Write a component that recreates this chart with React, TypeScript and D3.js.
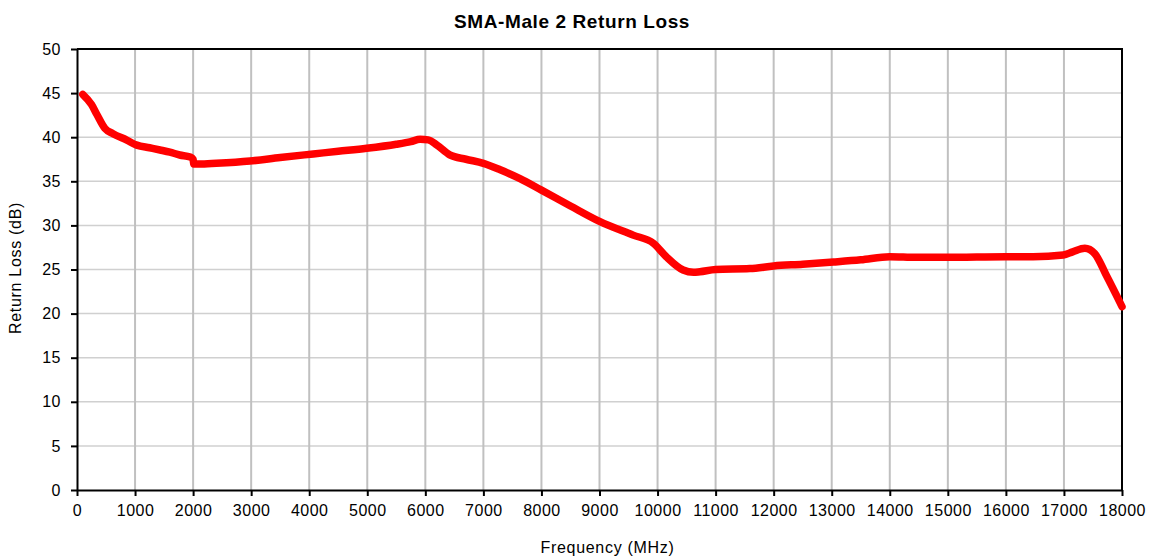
import React, { useEffect, useRef } from "react";
import * as d3 from "d3";

// frequency (MHz) and return loss (dB)
const freqs = [
  100, 250, 340, 480, 620, 850, 1030, 1250, 1430, 1600, 1770, 1950, 2000, 2010,
  2100, 2400, 2980, 3500, 4070, 4500, 4990, 5500, 5750, 5910, 6050, 6200, 6420,
  6700, 7000, 7290, 7630, 8000, 8500, 9000, 9580, 9930, 10150, 10440, 10620,
  10730, 11000, 11590, 12000, 12500, 13030, 13500, 14000, 14460, 15000, 15500,
  16000, 16470, 16990, 17150, 17360, 17530, 17740, 18000,
];
const returnLoss = [
  44.85, 43.7, 42.6, 41.0, 40.4, 39.7, 39.1, 38.8, 38.55, 38.3, 37.98, 37.75, 37.5,
  36.95, 36.95, 37.04, 37.3, 37.7, 38.1, 38.4, 38.74, 39.2, 39.5, 39.76, 39.7,
  39.1, 38.0, 37.5, 37.04, 36.3, 35.3, 34.0, 32.2, 30.45, 28.9, 27.97, 26.45,
  24.94, 24.68, 24.75, 25.0, 25.1, 25.4, 25.6, 25.85, 26.1, 26.45, 26.38, 26.38,
  26.42, 26.45, 26.45, 26.64, 27.0, 27.4, 26.8, 24.2, 20.8,
];

const xTicks = d3.range(0, 18001, 1000);
const yTicks = d3.range(0, 51, 5);

const W = 1153;
const H = 556;
const margin = { left: 77, right: 31, top: 49, bottom: 66 };

const App: React.FC = () => {
  const svgRef = useRef<SVGSVGElement | null>(null);

  useEffect(() => {
    const svg = d3.select(svgRef.current);
    svg.selectAll("*").remove();

    const x = d3.scaleLinear().domain([0, 18000]).range([margin.left, W - margin.right]);
    const y = d3.scaleLinear().domain([0, 50]).range([H - margin.bottom, margin.top]);
    const font = "'Liberation Sans', Arial, sans-serif";

    // grid
    svg.append("g")
      .selectAll("line")
      .data(yTicks.slice(1, -1))
      .join("line")
      .attr("x1", x(0)).attr("x2", x(18000))
      .attr("y1", d => y(d)).attr("y2", d => y(d))
      .attr("stroke", "#d0d0d0").attr("stroke-width", 1.5);

    svg.append("g")
      .selectAll("line")
      .data(xTicks.slice(1, -1))
      .join("line")
      .attr("x1", d => x(d)).attr("x2", d => x(d))
      .attr("y1", y(0)).attr("y2", y(50))
      .attr("stroke", "#c0c0c0").attr("stroke-width", 2);

    // frame top/right
    svg.append("path")
      .attr("d", `M${x(0)},${y(50)}H${x(18000)}V${y(0)}`)
      .attr("fill", "none").attr("stroke", "#000").attr("stroke-width", 2);

    // axes
    const xAxis = svg.append("g")
      .attr("transform", `translate(0,${y(0)})`)
      .call(d3.axisBottom(x).tickValues(xTicks).tickSize(6).tickSizeOuter(0).tickPadding(9).tickFormat(d3.format("d")));
    const yAxis = svg.append("g")
      .attr("transform", `translate(${x(0)},0)`)
      .call(d3.axisLeft(y).tickValues(yTicks).tickSize(6).tickSizeOuter(0).tickPadding(10));

    [xAxis, yAxis].forEach(a => {
      a.select(".domain").attr("stroke", "#000").attr("stroke-width", 2);
      a.selectAll(".tick line").attr("stroke", "#000").attr("stroke-width", 2);
      a.selectAll("text")
        .attr("fill", "#000")
        .style("font-family", font)
        .style("font-size", "16px")
        .style("letter-spacing", "0.5px");
    });

    // data line
    const line = d3.line<number>()
      .x((_, i) => x(freqs[i]))
      .y(d => y(d))
      .curve(d3.curveMonotoneX);

    svg.append("path")
      .datum(returnLoss)
      .attr("d", line)
      .attr("fill", "none")
      .attr("stroke", "#ff0000")
      .attr("stroke-width", 7.5)
      .attr("stroke-linejoin", "round")
      .attr("stroke-linecap", "round");

    // title & labels
    svg.append("text")
      .attr("x", 572).attr("y", 28)
      .attr("text-anchor", "middle")
      .style("font-family", font)
      .style("font-size", "19px")
      .style("font-weight", "bold")
      .style("letter-spacing", "0.6px")
      .text("SMA-Male 2 Return Loss");

    svg.append("text")
      .attr("x", (x(0) + x(18000)) / 2 + 8).attr("y", 553)
      .attr("text-anchor", "middle")
      .style("font-family", font)
      .style("font-size", "16px")
      .style("letter-spacing", "0.7px")
      .text("Frequency (MHz)");

    svg.append("text")
      .attr("transform", `translate(21,268) rotate(-90)`)
      .attr("text-anchor", "middle")
      .style("font-family", font)
      .style("font-size", "16px")
      .style("letter-spacing", "0.7px")
      .text("Return Loss (dB)");
  }, []);

  return (
    <svg
      ref={svgRef}
      width={W}
      height={H}
      style={{ position: "absolute", left: 0, top: 0, background: "#fff" }}
    />
  );
};

export default App;
